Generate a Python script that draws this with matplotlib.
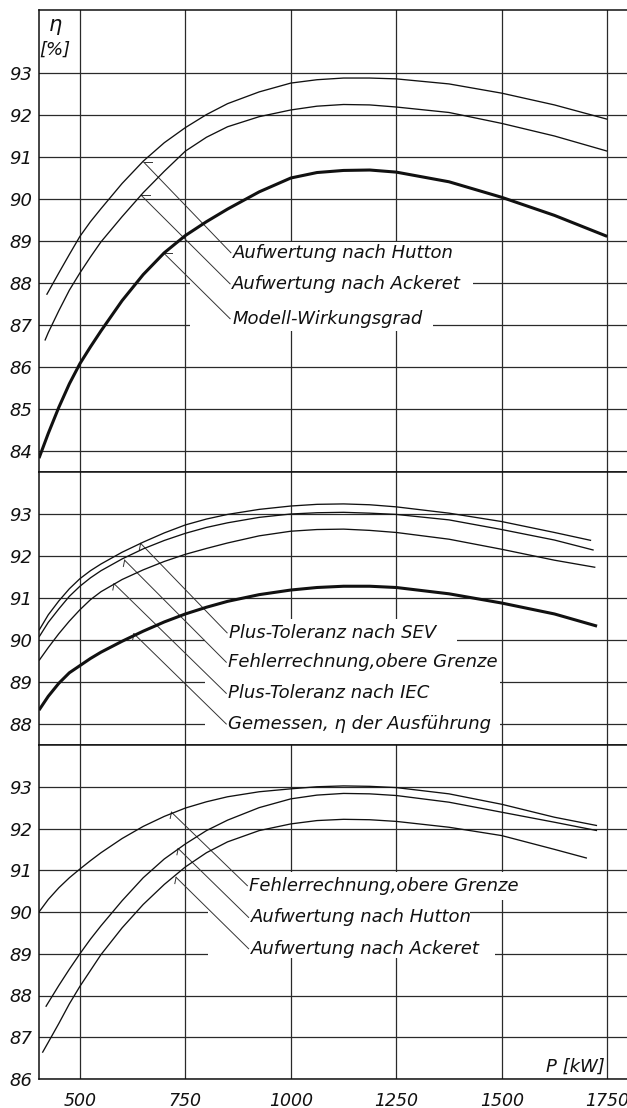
import matplotlib
matplotlib.use("Agg")
import matplotlib.pyplot as plt
from matplotlib.patches import Rectangle

# ---------------- data ----------------
P_TICKS = [500, 750, 1000, 1250, 1500, 1750]
P_TICK_LABELS = ["500", "750", "1000", "1250", "1500", "1750"]

# common power positions (kW) at which the curves were read (first/last point per curve differ)
P_MID = [425, 450, 475, 500, 525, 550, 600, 650, 700, 750, 800, 850, 925,
         1000, 1062, 1125, 1187, 1250, 1375, 1500, 1625]

# Panel 1 (top)
top_hutton_x = [421] + P_MID + [1750]
top_hutton_y = [87.72, 87.79, 88.24, 88.68, 89.11, 89.46, 89.77, 90.37, 90.90, 91.34, 91.70,
                92.01, 92.27, 92.55, 92.76, 92.84, 92.88, 92.88, 92.86, 92.74, 92.52, 92.24, 91.90]
top_ackeret_x = [417] + P_MID + [1750]
top_ackeret_y = [86.63, 86.82, 87.34, 87.83, 88.24, 88.62, 88.98, 89.58, 90.15, 90.66, 91.14,
                 91.47, 91.72, 91.96, 92.12, 92.21, 92.25, 92.24, 92.19, 92.06, 91.80, 91.50, 91.14]
top_modell_x = [403] + P_MID + [1750]
top_modell_y = [83.83, 84.42, 85.04, 85.60, 86.08, 86.48, 86.86, 87.58, 88.20, 88.72, 89.13,
                89.46, 89.76, 90.17, 90.50, 90.63, 90.68, 90.69, 90.64, 90.41, 90.04, 89.61, 89.11]

# Panel 2 (middle)
mid_sev_x = [403] + P_MID + [1712]
mid_sev_y = [90.23, 90.60, 90.93, 91.22, 91.46, 91.65, 91.81, 92.09, 92.33, 92.55, 92.74,
             92.88, 92.99, 93.11, 93.19, 93.23, 93.24, 93.22, 93.17, 93.02, 92.82, 92.56, 92.37]
mid_fehler_x = [403] + P_MID + [1718]
mid_fehler_y = [90.07, 90.42, 90.74, 91.04, 91.28, 91.48, 91.65, 91.93, 92.17, 92.37, 92.54,
                92.68, 92.79, 92.92, 93.00, 93.03, 93.04, 93.02, 92.99, 92.86, 92.63, 92.38, 92.14]
mid_iec_x = [403] + P_MID + [1722]
mid_iec_y = [89.51, 89.82, 90.15, 90.45, 90.72, 90.96, 91.15, 91.44, 91.67, 91.87, 92.04,
             92.18, 92.31, 92.48, 92.59, 92.63, 92.64, 92.61, 92.56, 92.40, 92.16, 91.90, 91.73]
mid_gem_x = [403] + P_MID + [1726]
mid_gem_y = [88.33, 88.66, 88.97, 89.22, 89.39, 89.56, 89.71, 89.97, 90.21, 90.43, 90.62,
             90.78, 90.92, 91.08, 91.19, 91.25, 91.28, 91.28, 91.25, 91.10, 90.88, 90.62, 90.33]

# Panel 3 (bottom)
bot_fehler_x = [403] + P_MID + [1726]
bot_fehler_y = [90.00, 90.30, 90.58, 90.82, 91.03, 91.23, 91.42, 91.76, 92.05, 92.29, 92.49,
                92.64, 92.76, 92.88, 92.95, 93.00, 93.02, 93.01, 92.98, 92.83, 92.58, 92.27, 92.07]
bot_hutton_x = [419] + P_MID + [1726]
bot_hutton_y = [87.73, 87.83, 88.24, 88.63, 89.00, 89.35, 89.67, 90.27, 90.82, 91.27, 91.63,
                91.95, 92.20, 92.50, 92.71, 92.80, 92.84, 92.83, 92.79, 92.63, 92.39, 92.15, 91.95]
bot_ackeret_x = [411] + P_MID + [1702]
bot_ackeret_y = [86.63, 86.88, 87.33, 87.80, 88.22, 88.60, 88.98, 89.62, 90.18, 90.66, 91.08,
                 91.42, 91.68, 91.95, 92.11, 92.19, 92.22, 92.21, 92.17, 92.03, 91.83, 91.50, 91.29]

top_labels = ["Aufwertung nach Hutton", "Aufwertung nach Ackeret", "Modell-Wirkungsgrad"]
mid_labels = ["Plus-Toleranz nach SEV", "Fehlerrechnung,obere Grenze",
              "Plus-Toleranz nach IEC", "Gemessen, η der Ausführung"]
bot_labels = ["Fehlerrechnung,obere Grenze", "Aufwertung nach Hutton", "Aufwertung nach Ackeret"]

# ---------------- style / layout ----------------
plt.rcParams['font.family'] = ['DejaVu Sans']
plt.rcParams['font.style'] = 'italic'
INK = '#111111'
GRID = '#2a2a2a'

W, H = 627, 1108
fig = plt.figure(figsize=(W / 100, H / 100), dpi=100)
fig.patch.set_facecolor('white')


def make_axes(top_px, bot_px, ylim, yticks, show_x=False):
    ax = fig.add_axes([39 / W, 1 - bot_px / H, 1 - 39 / W, (bot_px - top_px) / H])
    ax.set_xlim(403, 1797)
    ax.set_ylim(*ylim)
    ax.set_xticks(P_TICKS)
    ax.set_yticks(yticks)
    ax.set_yticklabels([str(v) for v in yticks])
    if show_x:
        ax.set_xticklabels(P_TICK_LABELS)
    else:
        ax.set_xticklabels([])
    ax.set_axisbelow(True)
    ax.grid(True, color=GRID, lw=0.9)
    ax.tick_params(length=0, labelsize=13, colors=INK)
    ax.tick_params(axis='y', pad=5)
    ax.tick_params(axis='x', pad=9, labelsize=12.5)
    for s in ['left', 'top', 'bottom']:
        ax.spines[s].set_color(INK)
        ax.spines[s].set_linewidth(1.1)
    ax.spines['right'].set_visible(False)
    return ax


ax1 = make_axes(10, 472, (83.5, 94.5), list(range(84, 94)))
ax2 = make_axes(472, 745, (87.5, 94.0), list(range(88, 94)))
ax3 = make_axes(745, 1079, (86.0, 94.0), list(range(86, 94)), show_x=True)


def mask(ax, x0, x1, y0, y1):
    ax.add_patch(Rectangle((x0, y0), x1 - x0, y1 - y0, facecolor='white',
                           edgecolor='none', zorder=1))


# white areas behind the labels (grid interrupted)
mask(ax1, 761, 1401, 88.30, 88.97)
mask(ax1, 761, 1432, 87.50, 88.30)
mask(ax1, 761, 1337, 86.85, 87.50)
mask(ax2, 796, 1395, 89.75, 90.50)
mask(ax2, 796, 1495, 87.50, 89.75)
mask(ax3, 803, 1556, 90.29, 90.96)
mask(ax3, 803, 1425, 89.57, 90.29)
mask(ax3, 803, 1484, 88.90, 89.57)

THIN, THICK = 0.95, 2.2
kw = dict(color=INK, zorder=3, solid_joinstyle='round', solid_capstyle='butt')
ax1.plot(top_hutton_x, top_hutton_y, lw=THIN, **kw)
ax1.plot(top_ackeret_x, top_ackeret_y, lw=THIN, **kw)
ax1.plot(top_modell_x, top_modell_y, lw=THICK, **kw)

ax2.plot(mid_sev_x, mid_sev_y, lw=THIN, **kw)
ax2.plot(mid_fehler_x, mid_fehler_y, lw=THIN, **kw)
ax2.plot(mid_iec_x, mid_iec_y, lw=THIN, **kw)
ax2.plot(mid_gem_x, mid_gem_y, lw=THICK, **kw)

ax3.plot(bot_fehler_x, bot_fehler_y, lw=THIN, **kw)
ax3.plot(bot_hutton_x, bot_hutton_y, lw=THIN, **kw)
ax3.plot(bot_ackeret_x, bot_ackeret_y, lw=THIN, **kw)


def leaders(ax, starts, ends, labels, tick='h'):
    for (sx, sy), (ex, ey), lab in zip(starts, ends, labels):
        ax.plot([sx, ex], [sy, ey], color='#333333', lw=0.7, zorder=2.5)
        if tick == 'h':
            ax.plot([sx, sx + 20], [sy, sy], color='#333333', lw=0.7, zorder=2.5)
        else:
            ax.plot([sx, sx - 3], [sy, sy - 0.15], color='#333333', lw=0.7, zorder=2.5)
        ax.text(ex + 5, ey, lab, ha='left', va='center', fontsize=13,
                color=INK, zorder=4)


leaders(ax1, [(651, 90.88), (645, 90.09), (698, 88.72)],
        [(858, 88.72), (856, 87.98), (856, 87.15)], top_labels, 'h')
leaders(ax2, [(644, 92.30), (606, 91.90), (581, 91.34), (628, 90.15)],
        [(849, 90.17), (847, 89.47), (847, 88.73), (847, 88.00)], mid_labels, 'v')
leaders(ax3, [(717, 92.39), (733, 91.52), (728, 90.83)],
        [(897, 90.63), (900, 89.87), (900, 89.12)], bot_labels, 'v')

# axis captions
ax1.text(441, 94.14, 'η', ha='center', va='center', fontsize=15, color=INK)
ax1.text(441, 93.55, '[%]', ha='center', va='center', fontsize=13, color=INK)
ax3.text(1745, 86.08, 'P [kW]', ha='right', va='bottom', fontsize=13, color=INK)

fig.savefig('out.png', dpi=100, facecolor='white')
